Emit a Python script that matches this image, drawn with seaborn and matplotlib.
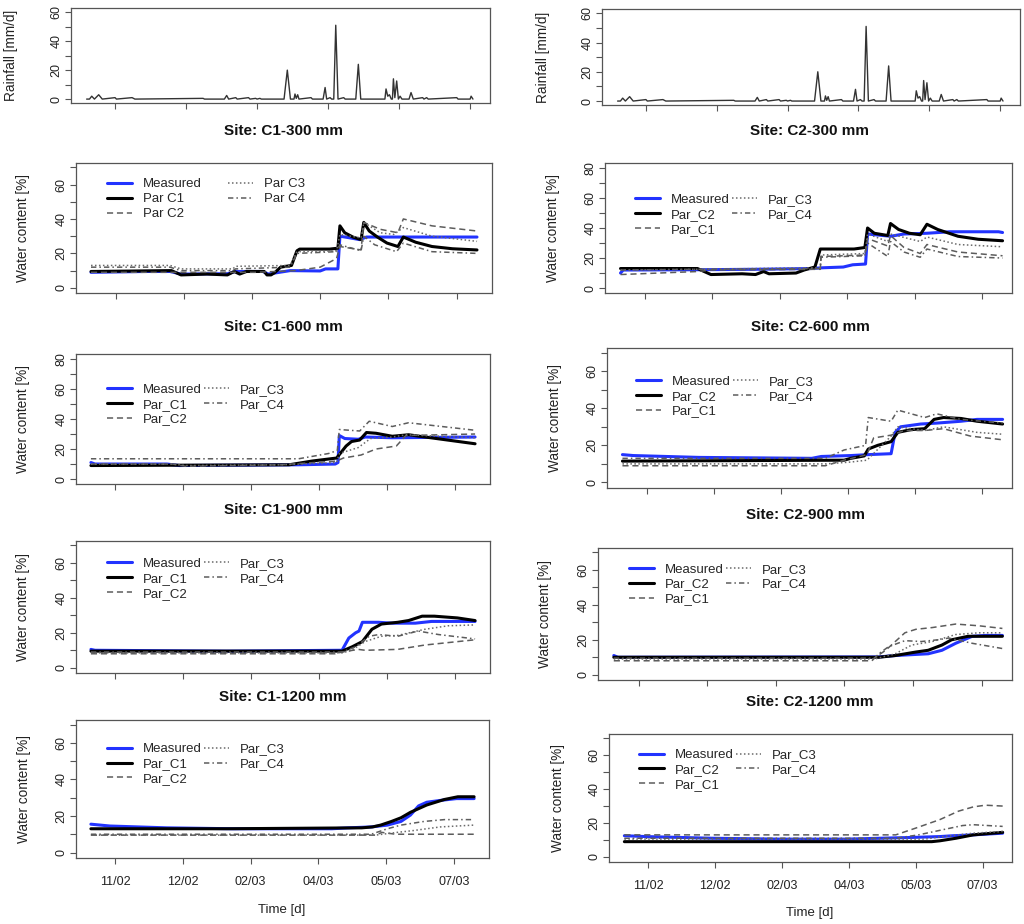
import matplotlib
matplotlib.use('Agg')
import matplotlib.pyplot as plt
import seaborn as sns
import pandas as pd
from matplotlib.lines import Line2D

sns.set_theme(style='ticks')
plt.rcParams['font.family'] = ['Liberation Sans', 'DejaVu Sans']

# x axis (days from start of record)
tick_days = [18, 68, 118, 168, 218, 268]
tick_labels = ['11/02', '12/02', '02/03', '04/03', '05/03', '07/03']

# rainfall (same station record in both columns)
rain_day = [-2, 0, 1.6, 3.5, 6.5, 9, 18, 19, 30, 32, 80, 81, 95, 96.6, 98, 103, 104, 112, 113,
            117, 118, 120, 121, 137, 139.3, 141.5, 144, 144.7, 145.6, 146.6, 147.5, 156, 157,
            164.5, 165.9, 167, 169.4, 170.5, 172, 173.4, 175, 179, 180, 187.5, 189.3, 191,
            208, 208.8, 210, 211.2, 212.5, 213.3, 214, 215, 216.3, 217.5, 218.7, 220, 225,
            226.4, 228, 234.6, 235.5, 237.4, 238.5, 258.6, 259.5, 268, 268.7, 270]
rain_mm = [0, 0, 2, 0, 3, 0, 1, 0, 1, 0, 0.5, 0, 0, 2.5, 0, 1, 0, 1, 0,
           0.5, 0, 0.5, 0, 0, 20, 0, 0, 3.5, 0.5, 3, 0, 1, 0,
           0, 8, 0, 1, 0, 0, 51, 0, 1, 0, 0, 24, 0,
           0, 7, 2, 3, 0, 0, 14, 1, 12.5, 0, 2, 0, 0,
           4.5, 0, 1, 0, 1, 0, 1, 0, 0, 2, 0]

# ---- Site C1 (day, water content %) ----
c1_300_measured = [(0, 9), (40, 9.5), (58, 9.5), (66, 8), (100, 8.2), (106, 9.5), (126, 9.5), (130, 8),
                   (146, 10), (168, 9.8), (172, 11), (181, 11), (182.5, 30), (190, 29), (197, 28),
                   (202, 29.5), (283, 29.5)]
c1_300_par_c1 = [(0, 9.5), (59, 10), (66, 7.5), (85, 8), (100, 7.5), (105, 9.5), (109, 8), (114, 9.5),
                 (127, 9.5), (129, 7.5), (132, 7.5), (135, 9), (139, 12), (147, 13), (151, 21.5),
                 (153, 22.5), (175, 22.5), (181, 23), (182.5, 36), (186, 32), (192, 29.5), (198, 28),
                 (200, 38), (204, 33), (210, 29.5), (217, 26), (225, 24), (229, 29.5), (238, 26.5),
                 (250, 24), (265, 22.7), (283, 22)]
c1_300_par_c2 = [(0, 9), (120, 9), (150, 10), (168, 12), (180, 17), (182.5, 24), (198, 22), (200, 38),
                 (212, 34), (225, 32), (229, 40), (250, 36), (283, 33)]
c1_300_par_c3 = [(0, 13), (58, 13), (66, 11), (104, 11), (106, 12.5), (146, 13), (151, 21), (180, 21.5),
                 (182.5, 31), (198, 29), (200, 38), (212, 32), (222, 31), (229, 35), (250, 30), (283, 27)]
c1_300_par_c4 = [(0, 12), (58, 12), (66, 10), (104, 10), (106, 11), (146, 12), (151, 20), (180, 21),
                 (182.5, 25), (198, 21.5), (200, 30), (208, 25), (224, 21), (229, 26), (250, 21), (283, 20)]

c1_600_measured = [(0, 11), (3, 10), (56, 10), (65, 9), (153, 9.5), (180, 10), (182, 11), (183, 29),
                   (187, 27), (197, 26.5), (202, 28), (222, 27.5), (283, 28)]
c1_600_par_c1 = [(0, 9), (146, 9.5), (163, 12), (181, 14), (188, 22), (192, 25), (198, 26), (203, 31),
                 (210, 30.5), (222, 28.5), (234, 29.5), (283, 23.5)]
c1_600_par_c2 = [(0, 10), (60, 10), (70, 8.5), (140, 9.5), (181, 12), (186, 14), (199, 16), (210, 20),
                 (225, 22), (232, 29), (283, 30)]
c1_600_par_c3 = [(0, 10), (60, 10), (70, 9), (140, 9.5), (181, 11), (183, 17), (197, 21), (206, 27),
                 (222, 28), (232, 29.5), (283, 27.5)]
c1_600_par_c4 = [(0, 13.5), (153, 13.5), (175, 17), (181.5, 19), (183, 33), (198, 32), (205, 38.5),
                 (222, 35), (234, 37.5), (283, 32.5)]

c1_900_measured = [(0, 10.5), (3, 10), (100, 9.5), (185, 10), (190, 17), (195, 20), (197.5, 21), (200, 26),
                   (212, 26), (222, 25.5), (239, 25.5), (251, 26.5), (283, 26.5)]
c1_900_par_c1 = [(0, 9.5), (185, 9.5), (192.5, 12), (200, 15), (207, 22), (214, 25), (226, 26), (234, 27),
                 (244, 29.5), (253, 29.5), (270, 28.5), (283, 27)]
c1_900_par_c2 = [(0, 8), (180, 8), (185, 9), (197, 10.5), (202, 10), (226, 10.5), (246, 13), (283, 16)]
c1_900_par_c3 = [(0, 8.5), (185, 8.5), (192, 10), (202, 15), (214, 18), (226, 18.5), (246, 22), (263, 24),
                 (283, 24.5)]
c1_900_par_c4 = [(0, 9), (185, 9), (195, 12), (205, 18), (212, 19), (226, 18), (241, 21), (256, 19),
                 (283, 16.5)]

c1_1200_measured = [(0, 15.5), (14, 14.5), (56, 13.5), (105, 13), (178, 13), (190, 13.5), (207, 14),
                    (219, 15), (229, 17), (236, 20.5), (242, 25.5), (248, 27.5), (258, 28.5), (270, 29.5),
                    (283, 29.5)]
c1_1200_par_c1 = [(0, 13), (100, 13), (200, 13.5), (208, 14), (214, 15), (222, 17), (229, 19), (236, 22),
                  (248, 26), (261, 29), (271, 30.5), (283, 30.5)]
c1_1200_par_c2 = [(0, 9.5), (210, 9.5), (215, 11), (225, 10), (283, 10)]
c1_1200_par_c3 = [(0, 9.5), (210, 9.5), (226, 11), (238, 12), (258, 14), (283, 15)]
c1_1200_par_c4 = [(0, 10), (207, 10), (219, 13), (229, 15), (246, 17), (261, 18), (283, 18)]

# ---- Site C2 ----
c2_300_measured = [(0, 10), (2, 12), (57, 12.2), (100, 12.5), (141, 13), (150, 13.5), (165, 14), (172, 15.5),
                   (181.5, 16), (183, 36), (200, 34.5), (210, 36), (227, 36.5), (244, 37.5), (280, 37.5),
                   (283, 37)]
c2_300_par_c2 = [(0, 13), (57, 13), (67, 9), (90, 9.5), (100, 9), (106, 11), (110, 9.5), (130, 10), (136, 12),
                 (144, 14), (148, 26), (173, 26), (181, 27), (183, 40), (188, 36.5), (198, 35), (200, 43),
                 (206, 39), (214, 36.5), (222, 35.5), (227, 42.5), (235, 39), (250, 34.5), (265, 32.5),
                 (283, 31.5)]
c2_300_par_c1 = [(0, 9), (57, 11), (67, 12), (148, 12.5), (148.5, 21), (181, 22), (183, 33), (198, 28),
                 (200, 35), (210, 27), (222, 23), (227, 29), (250, 24), (283, 21.5)]
c2_300_par_c3 = [(0, 12), (57, 12.5), (148, 13.5), (148.5, 22), (181, 23), (183, 36), (198, 31), (200, 36),
                 (222, 31), (227, 34), (250, 29), (283, 27.5)]
c2_300_par_c4 = [(0, 12), (57, 12.5), (148, 13), (148.5, 20.5), (181, 21.5), (183, 30), (198, 21), (200, 31),
                 (210, 24), (222, 20.5), (227, 26), (250, 21), (283, 20)]

c2_600_measured = [(0, 15), (8, 14.5), (57, 13.5), (141, 13), (148, 14), (170, 14.5), (183, 15), (200, 15.5),
                   (203, 27), (207, 30), (222, 31.5), (234, 32), (252, 33), (264, 34), (283, 34)]
c2_600_par_c2 = [(0, 11.5), (165, 12), (170, 13), (180, 14.3), (183, 18), (190, 20), (200, 22), (205, 27),
                 (215, 28.5), (225, 29), (232, 34), (239, 35), (252, 34.5), (264, 33), (283, 31.5)]
c2_600_par_c1 = [(0, 9), (151, 9), (165, 12), (182, 15), (187, 24), (200, 25.5), (210, 28), (225, 28),
                 (239, 29), (259, 25), (283, 23)]
c2_600_par_c3 = [(0, 10), (151, 10), (170, 11), (182, 12), (200, 25), (205, 30), (225, 28), (239, 30),
                 (264, 27), (283, 26)]
c2_600_par_c4 = [(0, 13), (151, 13), (165, 17.5), (181, 20), (183, 35), (200, 33), (205, 39), (225, 35),
                 (234, 37), (252, 34), (283, 32)]

c2_900_measured = [(0, 11), (3, 10), (193, 10.2), (205, 11), (229, 12), (239, 14), (249, 18), (261, 22),
                   (271, 22.5), (283, 22.5)]
c2_900_par_c2 = [(0, 10), (193, 10), (205, 11), (220, 13), (229, 14), (239, 17), (246, 20), (258, 22), (283, 22)]
c2_900_par_c1 = [(0, 8), (188, 8), (190.5, 10), (198, 14), (212, 24), (220, 26), (232, 27), (249, 29),
                 (266, 28), (283, 26.5)]
c2_900_par_c3 = [(0, 9), (190, 9), (205, 12), (217, 17), (232, 19), (249, 23), (266, 24), (283, 24)]
c2_900_par_c4 = [(0, 9.5), (190, 9.5), (193, 12), (200, 16), (212, 19.5), (224, 19), (236, 20), (244, 21),
                 (261, 18), (283, 15)]

c2_1200_measured = [(0, 12.5), (16, 12), (66, 11), (116, 10.5), (166, 10.5), (191, 11), (216, 11.5),
                    (236, 12), (246, 12.5), (261, 13), (283, 14)]
c2_1200_par_c2 = [(0, 9), (230, 9), (236, 9.5), (248, 11), (261, 13), (283, 14.5)]
c2_1200_par_c1 = [(0, 13), (203, 13), (218, 17), (236, 22), (250, 27), (261, 29.5), (270, 30.5), (283, 30)]
c2_1200_par_c3 = [(0, 10.5), (225, 10.5), (238, 12), (261, 14), (283, 15)]
c2_1200_par_c4 = [(0, 11), (203, 11), (220, 13), (238, 16), (253, 18.5), (261, 19), (283, 18)]

labels_c1_first = ['Measured', 'Par C1', 'Par C2', 'Par C3', 'Par C4']
labels_c1 = ['Measured', 'Par_C1', 'Par_C2', 'Par_C3', 'Par_C4']
labels_c2 = ['Measured', 'Par_C2', 'Par_C1', 'Par_C3', 'Par_C4']

STYLES = [
    dict(color='#2233ff', lw=2.2, linestyle='-'),
    dict(color='black', lw=2.2, linestyle='-'),
    dict(color='#5c5c5c', lw=1.1, linestyle=(0, (4, 2.5))),
    dict(color='#6a6a6a', lw=1.1, linestyle=(0, (1, 1.6))),
    dict(color='#5c5c5c', lw=1.1, linestyle=(0, (3.5, 2, 1, 2))),
]

W, H = 1024, 924
fig = plt.figure(figsize=(W / 100, H / 100), dpi=100)
fig.patch.set_facecolor('white')


def px_axes(left, top, right, bottom):
    return fig.add_axes([left / W, 1 - bottom / H, (right - left) / W, (bottom - top) / H])


def style_axes(ax, ymax, ylim, xlim, xlabels):
    for s in ax.spines.values():
        s.set_visible(True)
        s.set_color('#555555')
        s.set_linewidth(0.9)
    ax.set_facecolor('white')
    yt = list(range(0, ymax + 1, 10))
    ax.set_yticks(yt)
    ax.set_yticklabels([str(v) if v % 20 == 0 else '' for v in yt], rotation=90, va='center')
    ax.set_xticks(tick_days)
    ax.set_xticklabels(tick_labels if xlabels else [''] * len(tick_days))
    ax.tick_params(direction='out', length=4, width=0.8, color='#555555', labelsize=9,
                   labelcolor='#222222')
    ax.tick_params(axis='x', pad=9)
    ax.tick_params(axis='y', pad=2)
    ax.set_xlim(*xlim)
    ax.set_ylim(*ylim)
    ax.set_xlabel('')
    ax.grid(False)


def rain_panel(rect, lab_x):
    ax = px_axes(*rect)
    sns.lineplot(x=rain_day, y=rain_mm, ax=ax, sort=False, estimator=None, color='#333333', lw=1.0)
    style_axes(ax, 60, (-2.7, 62.9), (-13, 282), False)
    ax.set_ylabel('Rainfall [mm/d]', fontsize=9.8, color='#222222')
    ax.yaxis.set_label_coords(lab_x, 0.5)
    return ax


def wc_panel(rect, series, labels, ymax, leg_xy, colspace, xlabels, xlim):
    ax = px_axes(*rect)
    for pts, st in zip(series, STYLES):
        df = pd.DataFrame(pts, columns=['day', 'value'])
        sns.lineplot(data=df, x='day', y='value', ax=ax, sort=False, estimator=None, **st)
    ylim = (-3.3, 83.3) if ymax == 80 else (-3, 72.5)
    style_axes(ax, ymax, ylim, xlim, xlabels)
    ax.set_ylabel('Water content [%]', fontsize=9.8, color='#222222')
    ax.yaxis.set_label_coords(-0.11, 0.5)
    handles = [Line2D([], [], **st) for st in STYLES]
    ax.legend(handles, labels, ncol=2, frameon=False, loc='upper left',
              bbox_to_anchor=(leg_xy[0], leg_xy[1] - 0.027),
              borderaxespad=0, borderpad=0, handlelength=1.9, handletextpad=0.8,
              labelspacing=0.2, columnspacing=colspace, fontsize=9.5)
    return ax


xl_left = (-11, 294)
xl_right = (-11.5, 290)

rain_panel((71, 8, 490, 103), -0.126)
rain_panel((602, 9, 1020, 105), -0.124)

wc_panel((76, 163, 492, 293),
         [c1_300_measured, c1_300_par_c1, c1_300_par_c2, c1_300_par_c3, c1_300_par_c4],
         labels_c1_first, 70, (0.075, 0.91), 2.0, False, xl_left)
wc_panel((76, 354, 490, 484),
         [c1_600_measured, c1_600_par_c1, c1_600_par_c2, c1_600_par_c3, c1_600_par_c4],
         labels_c1, 80, (0.075, 0.80), 0.2, False, xl_left)
wc_panel((76, 541, 490, 673),
         [c1_900_measured, c1_900_par_c1, c1_900_par_c2, c1_900_par_c3, c1_900_par_c4],
         labels_c1, 70, (0.075, 0.90), 0.2, False, xl_left)
wc_panel((76, 720, 489, 858),
         [c1_1200_measured, c1_1200_par_c1, c1_1200_par_c2, c1_1200_par_c3, c1_1200_par_c4],
         labels_c1, 70, (0.075, 0.86), 0.2, True, xl_left)

wc_panel((605, 163, 1012, 293),
         [c2_300_measured, c2_300_par_c2, c2_300_par_c1, c2_300_par_c3, c2_300_par_c4],
         labels_c2, 80, (0.074, 0.79), 0.2, False, xl_right)
wc_panel((607, 348, 1012, 488),
         [c2_600_measured, c2_600_par_c2, c2_600_par_c1, c2_600_par_c3, c2_600_par_c4],
         labels_c2, 70, (0.072, 0.83), 0.2, False, xl_right)
wc_panel((598, 548, 1012, 680),
         [c2_900_measured, c2_900_par_c2, c2_900_par_c1, c2_900_par_c3, c2_900_par_c4],
         labels_c2, 70, (0.075, 0.91), 0.2, False, xl_right)
wc_panel((609, 734, 1012, 862),
         [c2_1200_measured, c2_1200_par_c2, c2_1200_par_c1, c2_1200_par_c3, c2_1200_par_c4],
         labels_c2, 70, (0.074, 0.91), 0.2, True, xl_right)

# panel titles sit in the gaps above each water-content panel
titles = [('Site: C1-300 mm', 283, 131), ('Site: C1-600 mm', 283, 327),
          ('Site: C1-900 mm', 283, 510), ('Site: C1-1200 mm', 283, 697),
          ('Site: C2-300 mm', 810, 131), ('Site: C2-600 mm', 810, 327),
          ('Site: C2-900 mm', 805, 515), ('Site: C2-1200 mm', 810, 702)]
for txt, x, y in titles:
    fig.text(x / W, 1 - y / H, txt, ha='center', va='center', fontsize=11, fontweight='bold',
             color='#111111')

fig.text(282 / W, 1 - 910 / H, 'Time [d]', ha='center', va='center', fontsize=9.5, color='#222222')
fig.text(810 / W, 1 - 913 / H, 'Time [d]', ha='center', va='center', fontsize=9.5, color='#222222')

fig.savefig('out.png', dpi=100, facecolor='white')
